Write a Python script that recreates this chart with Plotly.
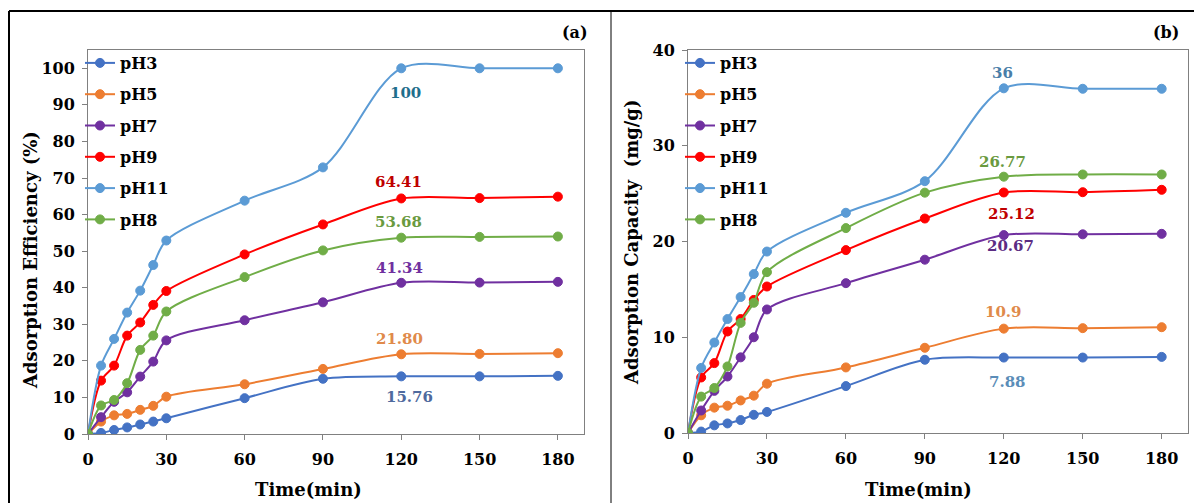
import plotly.graph_objects as go

time_min = [0, 5, 10, 15, 20, 25, 30, 60, 90, 120, 150, 180]
series_names = ["pH3", "pH5", "pH7", "pH9", "pH11", "pH8"]
series_colors = ["#4472C4", "#ED7D31", "#7030A0", "#FF0000", "#5B9BD5", "#70AD47"]

# (a) Adsorption efficiency (%)
eff_pH3 = [0, 0.3, 1.1, 1.8, 2.6, 3.4, 4.3, 9.8, 15.1, 15.76, 15.76, 15.9]
eff_pH5 = [0, 3.4, 5.1, 5.5, 6.6, 7.7, 10.2, 13.6, 17.8, 21.80, 21.9, 22.1]
eff_pH7 = [0, 4.6, 8.8, 11.4, 15.7, 19.8, 25.6, 31.1, 36.0, 41.34, 41.4, 41.6]
eff_pH9 = [0, 14.6, 18.7, 26.9, 30.5, 35.3, 39.1, 49.1, 57.3, 64.41, 64.5, 64.9]
eff_pH11 = [0, 18.7, 26.0, 33.2, 39.2, 46.2, 52.9, 63.8, 72.9, 100, 100, 100]
eff_pH8 = [0, 7.8, 9.3, 13.9, 23.0, 26.9, 33.5, 42.9, 50.2, 53.68, 53.9, 54.0]
eff_all = [eff_pH3, eff_pH5, eff_pH7, eff_pH9, eff_pH11, eff_pH8]

# (b) Adsorption capacity (mg/g)
cap_pH3 = [0, 0.15, 0.8, 1.0, 1.35, 1.9, 2.2, 4.9, 7.65, 7.88, 7.88, 7.95]
cap_pH5 = [0, 1.85, 2.65, 2.85, 3.4, 3.9, 5.15, 6.85, 8.9, 10.9, 10.95, 11.05]
cap_pH7 = [0, 2.35, 4.4, 5.9, 7.9, 10.0, 12.9, 15.65, 18.1, 20.67, 20.75, 20.8]
cap_pH9 = [0, 5.8, 7.3, 10.6, 11.9, 13.9, 15.3, 19.1, 22.4, 25.12, 25.15, 25.4]
cap_pH11 = [0, 6.8, 9.45, 11.9, 14.2, 16.6, 18.95, 23.0, 26.3, 36, 35.95, 35.95]
cap_pH8 = [0, 3.8, 4.7, 6.95, 11.5, 13.6, 16.8, 21.4, 25.1, 26.77, 27.0, 27.0]
cap_all = [cap_pH3, cap_pH5, cap_pH7, cap_pH9, cap_pH11, cap_pH8]

x_ticks = [0, 30, 60, 90, 120, 150, 180]

# value labels: text, x, y (data coords), colour
eff_labels = [
    ("100", 121.8, 93.3, "#1F6E8C"),
    ("64.41", 119.0, 68.9, "#C00000"),
    ("53.68", 119.0, 58.1, "#6A9A3F"),
    ("41.34", 119.5, 45.4, "#7030A0"),
    ("21.80", 119.5, 26.0, "#E08A4A"),
    ("15.76", 123.3, 10.1, "#4F6A9E"),
]
cap_labels = [
    ("36", 119.7, 37.6, "#4A7EA8"),
    ("26.77", 119.7, 28.3, "#6A9A3F"),
    ("25.12", 123.0, 22.9, "#C00000"),
    ("20.67", 122.7, 19.5, "#5B2C83"),
    ("10.9", 120.0, 12.6, "#E08A4A"),
    ("7.88", 121.6, 5.35, "#5B8DB8"),
]

FONT = "DejaVu Serif"
OFF = 8  # page body margin offset
W, H = 1202 - OFF, 503 - OFF

def px_x(p):
    return (p - OFF) / W

def px_y(p):
    return 1 - (p - OFF) / H

fig = go.Figure()

for name, col, ys in zip(series_names, series_colors, eff_all):
    fig.add_trace(go.Scatter(
        x=time_min, y=ys, name=name, mode="lines+markers",
        line=dict(color=col, width=2, shape="spline", smoothing=0.9),
        marker=dict(color=col, size=9, line=dict(color=col, width=1)),
        xaxis="x", yaxis="y", legend="legend", legendgroup="a" + name,
    ))
for name, col, ys in zip(series_names, series_colors, cap_all):
    fig.add_trace(go.Scatter(
        x=time_min, y=ys, name=name, mode="lines+markers",
        line=dict(color=col, width=2, shape="spline", smoothing=0.9),
        marker=dict(color=col, size=9, line=dict(color=col, width=1)),
        xaxis="x2", yaxis="y2", legend="legend2", legendgroup="b" + name,
    ))

tick_font = dict(family=FONT, size=16, color="black", weight="bold")
xaxis_common = dict(
    showgrid=False, zeroline=False, showline=True, linecolor="#808080",
    linewidth=1, mirror=True, ticks="outside", ticklen=5, tickcolor="#808080",
    tickfont=tick_font, ticklabelstandoff=6, automargin=False,
)
yaxis_common = dict(
    showgrid=False, zeroline=False, showline=True, linecolor="#808080",
    linewidth=1, mirror=True, ticks="outside", ticklen=5, tickcolor="#808080",
    tickfont=tick_font, ticklabelstandoff=4, automargin=False,
)

label_font_size = 15
annotations = []
for t, x, y, c in eff_labels:
    annotations.append(dict(text=t, x=x, y=y, xref="x", yref="y", showarrow=False,
                            font=dict(family=FONT, size=label_font_size, color=c, weight="bold")))
for t, x, y, c in cap_labels:
    annotations.append(dict(text=t, x=x, y=y, xref="x2", yref="y2", showarrow=False,
                            font=dict(family=FONT, size=label_font_size, color=c, weight="bold")))

title_font = dict(family=FONT, size=18, color="black", weight="bold")
panel_font = dict(family=FONT, size=16, color="black", weight="bold")
centered = dict(xref="paper", yref="paper", showarrow=False,
                xanchor="center", yanchor="middle")
annotations += [
    dict(text="Time(min)", x=px_x(308), y=px_y(489), font=title_font, **centered),
    dict(text="Time(min)", x=px_x(918), y=px_y(489), font=title_font, **centered),
    dict(text="Adsorption Efficiency (%)", x=px_x(31), y=px_y(260), textangle=-90,
         font=title_font, **centered),
    dict(text="Adsorption Capacity \u00a0(mg/g)", x=px_x(632), y=px_y(243), textangle=-90,
         font=title_font, **centered),
    dict(text="(a)", x=px_x(575), y=px_y(33), font=panel_font, **centered),
    dict(text="(b)", x=px_x(1166), y=px_y(33), font=panel_font, **centered),
]

shapes = [
    dict(type="line", xref="paper", yref="paper", x0=px_x(9), x1=1.0,
         y0=px_y(11), y1=px_y(11), line=dict(color="black", width=2)),
    dict(type="line", xref="paper", yref="paper", x0=px_x(9), x1=px_x(9),
         y0=px_y(11), y1=0, line=dict(color="black", width=2)),
    dict(type="line", xref="paper", yref="paper", x0=px_x(611), x1=px_x(611),
         y0=px_y(11), y1=0, line=dict(color="black", width=1)),
]

legend_common = dict(
    font=dict(family=FONT, size=16, color="black", weight="bold"),
    bgcolor="rgba(0,0,0,0)", borderwidth=0, itemwidth=30,
    traceorder="grouped", tracegroupgap=7.5, xanchor="left", yanchor="top",
)

fig.update_layout(
    width=W, height=H,
    margin=dict(l=0, r=0, t=0, b=0, pad=0, autoexpand=False),
    paper_bgcolor="white", plot_bgcolor="white",
    showlegend=True,
    xaxis=dict(domain=[px_x(88), px_x(584)], range=[0, 190], tickvals=x_ticks,
               anchor="y", **xaxis_common),
    yaxis=dict(domain=[px_y(434), px_y(50)], range=[0, 105], dtick=10,
               anchor="x", **yaxis_common),
    xaxis2=dict(domain=[px_x(688), px_x(1188)], range=[0, 190], tickvals=x_ticks,
                anchor="y2", **xaxis_common),
    yaxis2=dict(domain=[px_y(433), px_y(50)], range=[0, 40], dtick=10,
                anchor="x2", **yaxis_common),
    legend=dict(x=px_x(80), y=px_y(46), **legend_common),
    legend2=dict(x=px_x(680), y=px_y(46), **legend_common),
    annotations=annotations,
    shapes=shapes,
)

fig.write_html("out.html")
